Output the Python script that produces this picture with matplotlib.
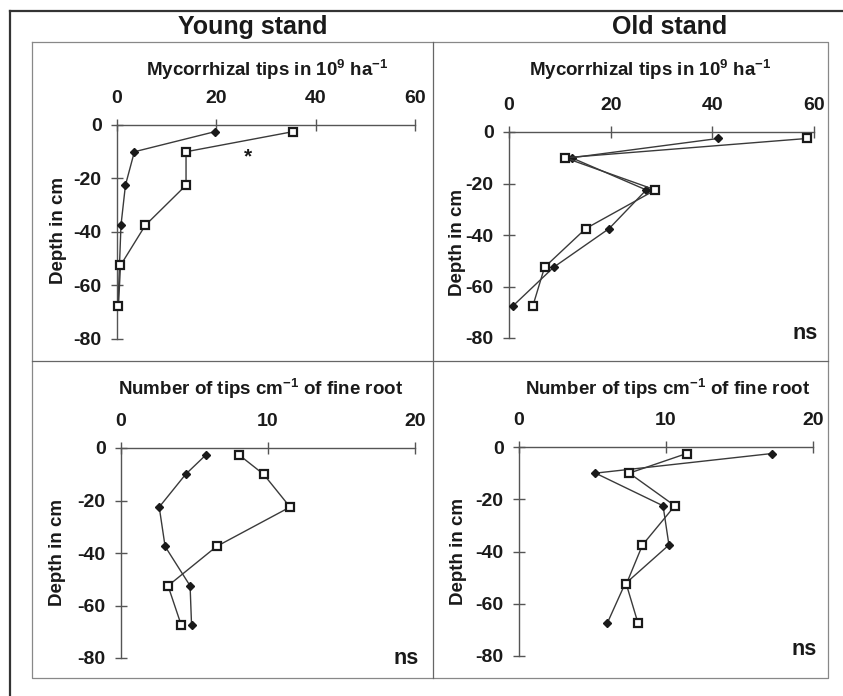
import matplotlib
matplotlib.use("Agg")
import matplotlib.pyplot as plt
from matplotlib.lines import Line2D

plt.rcParams['font.family'] = ['Liberation Sans', 'DejaVu Sans']
plt.rcParams['font.weight'] = 'bold'
plt.rcParams['axes.unicode_minus'] = False
plt.rcParams['mathtext.fontset'] = 'custom'
plt.rcParams['mathtext.rm'] = 'Liberation Sans:bold'
plt.rcParams['mathtext.bf'] = 'Liberation Sans:bold'
plt.rcParams['mathtext.it'] = 'Liberation Sans:bold'

# depth of sampled layers (cm)
depth = [-2.5, -10, -22.5, -37.5, -52.5, -67.5]

# mycorrhizal tips in 10^9 ha-1
young_myc_d = [19.7, 3.5, 1.7, 0.8, 0.5, 0.2]
young_myc_s = [35.4, 13.9, 13.9, 5.7, 0.7, 0.3]
old_myc_d = [41.2, 12.3, 27.0, 19.7, 8.8, 0.8]
old_myc_s = [58.7, 11.0, 28.8, 15.1, 7.0, 4.7]

# number of tips per cm of fine root
young_tips_d = [5.8, 4.4, 2.6, 3.0, 4.7, 4.8]
young_tips_s = [8.0, 9.7, 11.5, 6.5, 3.2, 4.1]
old_tips_d = [17.2, 5.2, 9.8, 10.2, 7.2, 6.0]
old_tips_s = [11.4, 7.5, 10.6, 8.4, 7.3, 8.1]

myc_ticks = [0, 20, 40, 60]
tips_ticks = [0, 10, 20]
depth_ticks = [0, -20, -40, -60, -80]

myc_label = r'Mycorrhizal tips in 10$^{9}$ ha$^{-1}$'
tips_label = r'Number of tips cm$^{-1}$ of fine root'

W, H = 843, 696
fig = plt.figure(figsize=(W / 100, H / 100), dpi=100)
ink = '#1a1a1a'


def px_axes(x0, x1, y0, y1):
    # x0,x1 = pixel x of axis start/end, y0 = pixel y of 0 depth, y1 = pixel y of -80
    return fig.add_axes([x0 / W, 1 - y1 / H, (x1 - x0) / W, (y1 - y0) / H])


def panel(ax, dvals, svals, xticks, xlabel, lab_xy, ylab_xy, ns=None):
    ax.plot(dvals, depth, color='#3a3a3a', lw=1, marker='D', ms=4.5,
            mfc=ink, mec=ink, clip_on=False, zorder=3)
    ax.plot(svals, depth, color='#3a3a3a', lw=1, marker='s', ms=5.5,
            mfc='white', mec=ink, mew=1.6, clip_on=False, zorder=4)
    ax.set_xlim(xticks[0], xticks[-1])
    ax.set_ylim(-80, 0)
    for s in ['right', 'bottom']:
        ax.spines[s].set_visible(False)
    for s in ['top', 'left']:
        ax.spines[s].set_color('#555555')
        ax.spines[s].set_linewidth(1)
    ax.xaxis.tick_top()
    ax.set_xticks(xticks)
    ax.set_yticks(depth_ticks)
    ax.tick_params(axis='x', direction='inout', length=8, width=1,
                   color='#555555', pad=9, labelsize=14, labelcolor=ink)
    ax.tick_params(axis='y', direction='inout', length=8, width=1,
                   color='#555555', pad=7, labelsize=14, labelcolor=ink)
    ax.patch.set_alpha(0)
    ax.text(lab_xy[0], lab_xy[1], xlabel, transform=ax.transAxes,
            ha='center', va='center', fontsize=13.5, color=ink)
    ax.text(ylab_xy[0], ylab_xy[1], 'Depth in cm', transform=ax.transAxes,
            ha='center', va='center', rotation=90, fontsize=13.5, color=ink)
    if ns is not None:
        ax.text(ns[0], ns[1], 'ns', transform=ax.transAxes,
                ha='center', va='center', fontsize=15.5, color=ink)


ax1 = px_axes(117, 415, 125, 339)
panel(ax1, young_myc_d, young_myc_s, myc_ticks, myc_label,
      (0.505, 1.257), (-0.195, 0.509))
ax1.text(26.3, -11.8, '*', ha='center', va='center', fontsize=15, color=ink)

ax2 = px_axes(509, 814, 132, 338)
panel(ax2, old_myc_d, old_myc_s, myc_ticks, myc_label,
      (0.462, 1.299), (-0.17, 0.464), ns=(0.97, 0.02))

ax3 = px_axes(121, 415, 448, 658)
panel(ax3, young_tips_d, young_tips_s, tips_ticks, tips_label,
      (0.476, 1.283), (-0.217, 0.50), ns=(0.97, 0.0))

ax4 = px_axes(519, 813, 447, 656)
panel(ax4, old_tips_d, old_tips_s, tips_ticks, tips_label,
      (0.504, 1.28), (-0.205, 0.498), ns=(0.97, 0.03))

# stand titles
fig.text(253 / W, 1 - 27 / H, 'Young stand', ha='center', va='center',
         fontsize=18, color=ink)
fig.text(670 / W, 1 - 27 / H, 'Old stand', ha='center', va='center',
         fontsize=18, color=ink)


def fline(xs, ys, color, lw):
    fig.add_artist(Line2D([x / W for x in xs], [1 - y / H for y in ys],
                          transform=fig.transFigure, color=color, lw=lw))


# outer frame (top and left only)
fline([10, 843], [11, 11], '#333333', 1.6)
fline([10, 10], [11, 696], '#333333', 1.6)
# inner box and dividers
fline([32, 828, 828, 32, 32], [42, 42, 678, 678, 42], '#888888', 0.9)
fline([433, 433], [42, 678], '#666666', 0.9)
fline([32, 828], [361, 361], '#666666', 0.9)

fig.savefig('out.png', dpi=100)
